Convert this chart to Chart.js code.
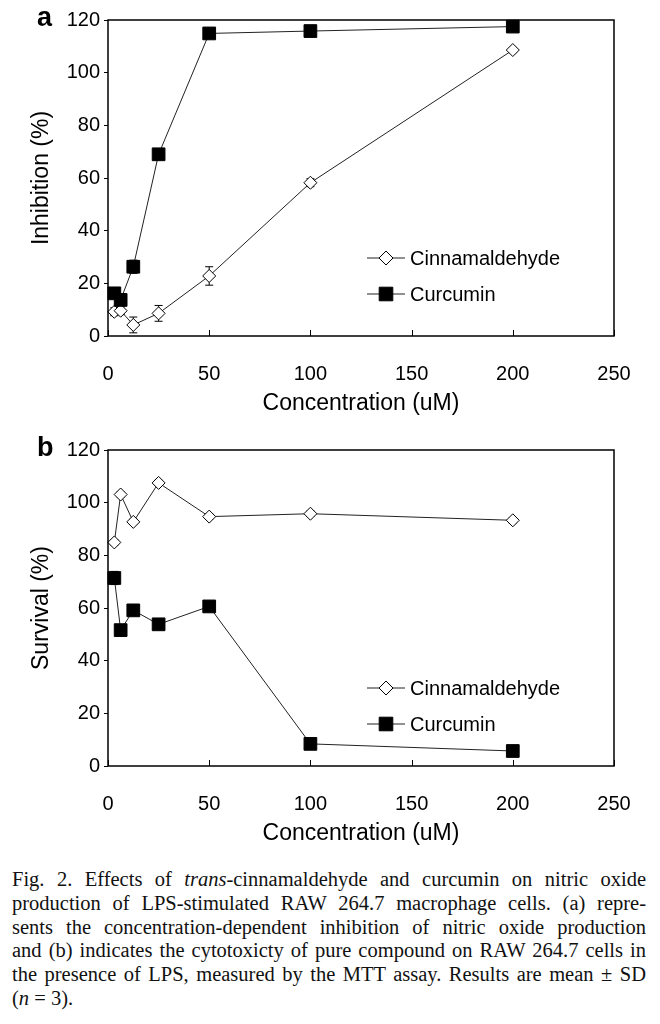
<!DOCTYPE html>
<html><head><meta charset="utf-8">
<script src="https://cdn.jsdelivr.net/npm/chart.js@4.4.0/dist/chart.umd.min.js"></script>
<style>
body{margin:0;background:#fff;width:660px;height:1024px;overflow:hidden;position:relative;}
canvas{position:absolute;left:0;}
#ca{top:0}
#cb{top:430px}
#cap{position:absolute;left:12px;top:868px;width:634px;font-family:"Liberation Serif","Times New Roman",serif;font-size:20.5px;line-height:23.8px;color:#111;}
#cap .l{text-align:justify;text-align-last:justify;white-space:nowrap;}
#cap .last{text-align:left;text-align-last:left;}
</style></head>
<body>
<canvas id="ca" width="660" height="420"></canvas>
<canvas id="cb" width="660" height="420"></canvas>
<div id="cap">
<div class="l">Fig. 2. Effects of <i>trans</i>-cinnamaldehyde and curcumin on nitric oxide</div>
<div class="l">production of LPS-stimulated RAW 264.7 macrophage cells. (a) repre-</div>
<div class="l">sents the concentration-dependent inhibition of nitric oxide production</div>
<div class="l">and (b) indicates the cytotoxicty of pure compound on RAW 264.7 cells in</div>
<div class="l">the presence of LPS, measured by the MTT assay. Results are mean ± SD</div>
<div class="l last">(<i>n</i> = 3).</div>
</div>
<script>
// ---- data ----
const concentrations = [3.125, 6.25, 12.5, 25, 50, 100, 200];
const seriesNames = ['Cinnamaldehyde', 'Curcumin'];
const inhibitionCinnamaldehyde   = [9.2, 9.6, 4.2, 8.6, 22.8, 58.2, 108.6];
const inhibitionCinnamaldehydeSD = [1.5, 1.5, 3, 3, 3.5, 1.5, 1];
const inhibitionCurcumin         = [16.2, 13.7, 26.3, 69.0, 114.9, 115.8, 117.5];
const inhibitionCurcuminSD       = [1.5, 2, 2.5, 1, 1, 1, 1];
const survivalCinnamaldehyde     = [84.9, 103.1, 92.7, 107.5, 94.7, 95.8, 93.3];
const survivalCinnamaldehydeSD   = [1, 1, 1, 1, 1, 1, 1];
const survivalCurcumin           = [71.4, 51.6, 59.1, 53.8, 60.6, 8.4, 5.7];
const survivalCurcuminSD         = [2.5, 1, 2, 1, 1, 1, 1];
const xTickValues = [0, 50, 100, 150, 200, 250];
const yTickValues = [0, 20, 40, 60, 80, 100, 120];
const xTitle = 'Concentration (uM)';

const SANS = '"Liberation Sans", Arial, Helvetica, sans-serif';

function pts(ys){ return concentrations.map((x,i)=>({x:x, y:ys[i]})); }

function drawMarker(ctx, style, x, y){
  ctx.save();
  ctx.lineWidth = 1; ctx.strokeStyle = '#000';
  ctx.beginPath();
  if (style === 'rect'){
    const s = 6.8;
    ctx.rect(x-s, y-s, 2*s, 2*s);
    ctx.fillStyle = '#000';
  } else {
    const r = 7;
    ctx.moveTo(x-r, y); ctx.lineTo(x, y-r); ctx.lineTo(x+r, y); ctx.lineTo(x, y+r); ctx.closePath();
    ctx.fillStyle = '#fff';
  }
  ctx.fill(); ctx.stroke();
  ctx.restore();
}

const framePlugin = {
  id: 'frame',
  beforeDatasetsDraw(chart){
    const ctx = chart.ctx, xs = chart.scales.x, ys = chart.scales.y;
    ctx.save(); ctx.strokeStyle = '#000'; ctx.lineWidth = 1;
    chart.data.datasets.forEach(ds => {
      ds.data.forEach((p, j) => {
        const sd = ds.sd[j];
        const px = xs.getPixelForValue(p.x);
        const t = ys.getPixelForValue(p.y + sd), b = ys.getPixelForValue(p.y - sd);
        ctx.beginPath();
        ctx.moveTo(px, t); ctx.lineTo(px, b);
        ctx.moveTo(px-4, t); ctx.lineTo(px+4, t);
        ctx.moveTo(px-4, b); ctx.lineTo(px+4, b);
        ctx.stroke();
      });
    });
    ctx.restore();
  },
  afterDraw(chart, args, opts){
    const ctx = chart.ctx, a = chart.chartArea, xs = chart.scales.x;
    ctx.save();
    ctx.strokeStyle = '#000'; ctx.lineWidth = 1.5;
    ctx.strokeRect(a.left, a.top, a.right - a.left, a.bottom - a.top);
    ctx.lineWidth = 1;
    xs.ticks.forEach(t => {
      const px = Math.round(xs.getPixelForValue(t.value)) + 0.5;
      ctx.beginPath(); ctx.moveTo(px, a.bottom); ctx.lineTo(px, a.bottom - 6); ctx.stroke();
    });
    // panel letter
    ctx.fillStyle = '#000';
    ctx.font = 'bold 27px ' + SANS;
    ctx.textAlign = 'left'; ctx.textBaseline = 'middle';
    ctx.fillText(opts.letter, 37, a.top - 1);
    // legend
    ctx.font = '20px ' + SANS;
    chart.data.datasets.forEach((ds, i) => {
      const y = a.top + opts.legendY[i];
      const x0 = a.left + 259;
      ctx.strokeStyle = '#222'; ctx.lineWidth = 1;
      ctx.beginPath(); ctx.moveTo(x0, y); ctx.lineTo(x0 + 38, y); ctx.stroke();
      drawMarker(ctx, ds.markerKind, x0 + 19, y);
      ctx.fillStyle = '#000';
      ctx.fillText(ds.label, x0 + 43, y + 1);
    });
    ctx.restore();
  }
};

function makeChart(id, letter, yTitle, cinY, cinSD, curY, curSD){
  return new Chart(document.getElementById(id), {
    type: 'line',
    data: {
      datasets: [
        { label: seriesNames[0], data: pts(cinY), sd: cinSD, markerKind: 'diamond',
          borderColor: '#222', borderWidth: 1, pointStyle: 'rectRot', pointRadius: 6.5,
          pointBackgroundColor: '#fff', pointBorderColor: '#000', pointBorderWidth: 1,
          tension: 0, clip: false, order: 1 },
        { label: seriesNames[1], data: pts(curY), sd: curSD, markerKind: 'rect',
          borderColor: '#222', borderWidth: 1, pointStyle: 'rect', pointRadius: 9,
          pointBackgroundColor: '#000', pointBorderColor: '#000', pointBorderWidth: 1,
          tension: 0, clip: false, order: 0 }
      ]
    },
    options: {
      responsive: false, animation: false,
      layout: { padding: { left: 0, right: 46, top: 20, bottom: 0 } },
      plugins: { legend: { display: false }, tooltip: { enabled: false },
                 frame: { letter: letter, legendY: [238, 274] } },
      scales: {
        x: { type: 'linear', min: 0, max: 250,
             afterBuildTicks: s => { s.ticks = xTickValues.map(v => ({value: v})); },
             afterFit: s => { s.height = 84; },
             grid: { display: false }, border: { display: false },
             ticks: { color: '#000', padding: 18, font: { family: SANS, size: 20 } },
             title: { display: true, text: xTitle, color: '#000',
                      font: { family: SANS, size: 23 }, padding: { top: 0, bottom: 3 } } },
        y: { type: 'linear', min: 0, max: 120,
             afterBuildTicks: s => { s.ticks = yTickValues.map(v => ({value: v})); },
             afterFit: s => { s.width = 108; },
             grid: { drawOnChartArea: false, drawTicks: true, tickLength: 4, color: '#000' },
             border: { display: false },
             ticks: { color: '#000', padding: 4, font: { family: SANS, size: 20 } },
             title: { display: true, text: yTitle, color: '#000',
                      font: { family: SANS, size: 23 }, padding: { top: 28, bottom: 0 } } }
      }
    },
    plugins: [framePlugin]
  });
}

makeChart('ca', 'a', 'Inhibition (%)', inhibitionCinnamaldehyde, inhibitionCinnamaldehydeSD, inhibitionCurcumin, inhibitionCurcuminSD);
makeChart('cb', 'b', 'Survival (%)', survivalCinnamaldehyde, survivalCinnamaldehydeSD, survivalCurcumin, survivalCurcuminSD);
</script>
</body></html>
